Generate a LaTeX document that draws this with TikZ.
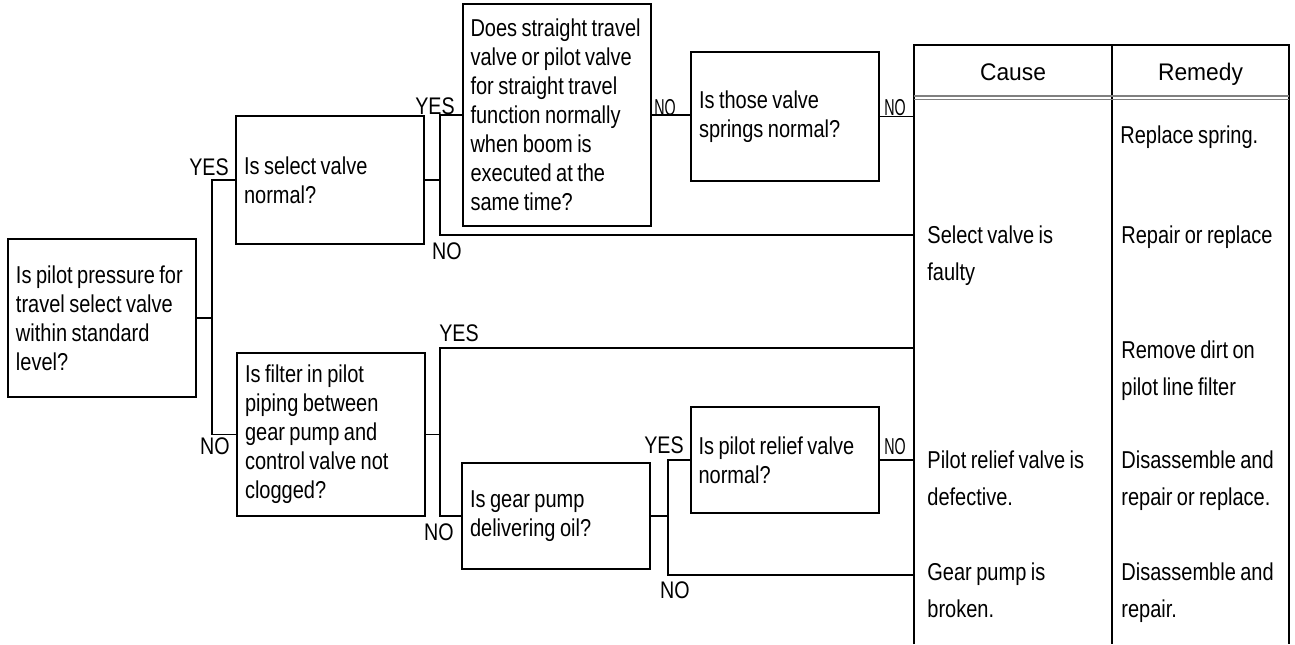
\documentclass[tikz,border=0pt]{standalone}
\usepackage{fontspec}
\setmainfont{Liberation Sans}[FakeStretch=0.82,WordSpace=0.8]
\newfontfamily\headfont{Liberation Sans}[FakeStretch=0.95]
\newfontfamily\narrowfont{Liberation Sans}[FakeStretch=0.62]

\begin{document}
\begin{tikzpicture}[x=0.5pt,y=-0.5pt]
    \tikzstyle{every node}=[inner sep=0pt]
    \tikzstyle{question}=[draw,line width=1pt,align=left,text width=86pt,
                          inner xsep=4pt,font=\fontsize{12.2}{14.5}\selectfont,
                          execute at begin node={\spaceskip=0pt\xspaceskip=0pt\relax}]
    \tikzstyle{answer}=[font=\fontsize{12}{14}\selectfont]
    \tikzstyle{smallanswer}=[font=\narrowfont\fontsize{11.5}{12}\selectfont]
    \tikzstyle{entry}=[anchor=north west,align=left,
                       font=\fontsize{12.2}{18.5}\selectfont]
    \tikzstyle{heading}=[anchor=base,font=\headfont\fontsize{12}{14}\selectfont]
    \tikzstyle{wire}=[line width=0.7pt]

    \useasboundingbox (0,0) rectangle (1295,644);

    % The questions, from left to right
    \node[question,minimum height=79pt] (pressure) at (102,318)
        {Is pilot pressure for\\travel select valve\\within standard\\level?};
    \node[question,minimum height=64pt] (select) at (330,180)
        {Is select valve\\normal?};
    \node[question,minimum height=111pt] (straight) at (556.5,115)
        {Does straight travel\\valve or pilot valve\\for straight travel\\function normally\\when boom is\\executed at the\\same time?};
    \node[question,minimum height=64.5pt] (springs) at (785,116.5)
        {Is those valve\\springs normal?};
    \node[question,minimum height=81.5pt] (filter) at (331,434.5)
        {Is filter in pilot\\piping between\\gear pump and\\control valve not\\clogged?};
    \node[question,minimum height=53pt] (pump) at (556,516)
        {Is gear pump\\delivering oil?};
    \node[question,minimum height=53pt] (relief) at (784.5,460)
        {Is pilot relief valve\\normal?};

    % Cause / remedy table (open at the bottom)
    \coordinate (tl) at (914,45);
    \coordinate (tm) at (1112,45);
    \coordinate (tr) at (1289,45);
    \coordinate (bl) at (914,644);
    \coordinate (bm) at (1112,644);
    \coordinate (br) at (1289,644);
    \draw[line width=1pt] (bl) -- (tl) -- (tr) -- (br);
    \draw[line width=1pt] (tm) -- (bm);
    \draw[gray,line width=0.6pt] (914,96) -- (1289,96) (914,99.5) -- (1289,99.5);
    \node[heading] (cause) at (1013,80) {Cause};
    \node[heading] (remedy) at (1200.5,80) {Remedy};

    \node[entry] (springfix) at (1120,125) {Replace spring.};
    \node[entry] (selectcause) at (927,225) {Select valve is\\faulty};
    \node[entry] (selectfix) at (1121,225) {Repair or replace};
    \node[entry] (filterfix) at (1121,340) {Remove dirt on\\pilot line filter};
    \node[entry] (reliefcause) at (927,450) {Pilot relief valve is\\defective.};
    \node[entry] (relieffix) at (1121,450) {Disassemble and\\repair or replace.};
    \node[entry] (pumpcause) at (927,562) {Gear pump is\\broken.};
    \node[entry] (pumpfix) at (1121,562) {Disassemble and\\repair.};

    % Branch points
    \coordinate (ja) at (212,318);
    \coordinate (jb) at (440,180);
    \coordinate (nb) at (440,235);
    \coordinate (je) at (440,434.5);
    \coordinate (ye) at (440,348);
    \coordinate (jf) at (668,516);
    \coordinate (nf) at (668,575);

    % Upper branch
    \draw[wire] (pressure.east) -- (ja);
    \draw[wire] (select.west) -| (ja) |- (filter.west);
    \draw[wire] (select.east) -- (jb);
    \draw[wire] (straight.west) -| (jb) -- (nb) -- (nb -| tl);
    \draw[wire] (straight.east) -- (straight.east -| springs.west);
    \draw[wire] (springs.east) -- (springs.east -| tl);

    % Lower branch
    \draw[wire] (filter.east) -- (je);
    \draw[wire] (ye -| tl) -- (ye) |- (pump.west);
    \draw[wire] (pump.east) -- (jf);
    \draw[wire] (relief.west) -| (jf) -- (nf) -- (nf -| tl);
    \draw[wire] (relief.east) -- (relief.east -| tl);

    % Answers
    \node[answer] (yesselect) at (209,167) {YES};
    \node[answer] (nofilter) at (215,446) {NO};
    \node[answer] (yesstraight) at (435,106) {YES};
    \node[answer] (noselect) at (447,251) {NO};
    \node[smallanswer] (nostraight) at (665,108) {NO};
    \node[smallanswer] (nosprings) at (895,108) {NO};
    \node[answer] (yesfilter) at (459,333) {YES};
    \node[answer] (nopump) at (439,532) {NO};
    \node[answer] (yespump) at (664,445) {YES};
    \node[answer] (nopumpout) at (675,590) {NO};
    \node[smallanswer] (norelief) at (895,447) {NO};
\end{tikzpicture}
\end{document}
